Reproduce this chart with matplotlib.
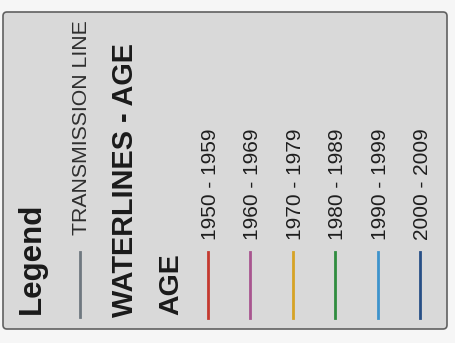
import matplotlib.pyplot as plt
from matplotlib.patches import FancyBboxPatch

plt.rcParams['font.family'] = ['Liberation Sans', 'DejaVu Sans']

# legend contents
titulo = "Legend"
linea_transmision = "TRANSMISSION LINE"
color_transmision = "#6f7880"
subtitulo = "WATERLINES - AGE"
encabezado = "AGE"
rangos = ["1950 - 1959", "1960 - 1969", "1970 - 1979",
          "1980 - 1989", "1990 - 1999", "2000 - 2009"]
colores = ["#c4392f", "#a8558f", "#d6a326", "#2f8c3f", "#3d93cc", "#274f86"]

fig = plt.figure(figsize=(4.56, 3.43), dpi=100)
fig.patch.set_facecolor("#f6f6f6")
ax = fig.add_axes([0, 0, 1, 1])
ax.set_xlim(0, 456)
ax.set_ylim(343, 0)
ax.axis("off")

# caja de la leyenda
caja = FancyBboxPatch((3, 12), 444, 317, boxstyle="round,pad=0,rounding_size=4",
                      facecolor="#d9d9d9", edgecolor="#606060", linewidth=1.2)
ax.add_patch(caja)

def texto(x, y, s, size, bold=False, color="#1a1a1a"):
    ax.text(x, y, s, rotation=90, rotation_mode="anchor", ha="left", va="baseline",
            fontsize=size, fontweight="bold" if bold else "normal", color=color)

texto(40, 314, titulo, 22.5, bold=True)

ax.plot([80, 80], [252, 317], color=color_transmision, linewidth=2)
texto(87, 235, linea_transmision, 15.3, color="#2e2e2e")

texto(133, 317, subtitulo, 20.8, bold=True)
texto(178, 315, encabezado, 20.5, bold=True)

x0, paso = 208, 42.4
for i, (r, c) in enumerate(zip(rangos, colores)):
    x = x0 + i * paso
    ax.plot([x, x], [252, 318], color=c, linewidth=2)
    texto(x + 8, 240, r, 15, color="#1e1e1e")

plt.savefig("out.png", dpi=100, facecolor=fig.get_facecolor())
